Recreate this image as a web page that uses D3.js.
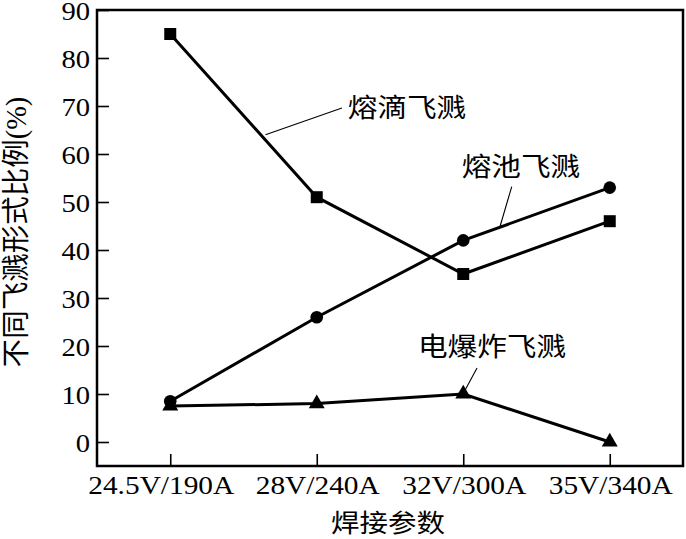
<!DOCTYPE html>
<html><head><meta charset="utf-8">
<script src="https://cdn.jsdelivr.net/npm/d3@7"></script>
<style>html,body{margin:0;padding:0;background:#fff;}</style>
</head><body>
<svg id="c" width="686" height="539"></svg>
<script>
const categories = ["24.5V/190A","28V/240A","32V/300A","35V/340A"];
const dropletSpatter = [85, 51, 35, 46];      // 熔滴飞溅 squares
const poolSpatter = [8.5, 26, 42, 53];        // 熔池飞溅 circles
const explosionSpatter = [7.5, 8, 10, 0];     // 电爆炸飞溅 triangles
const yTicks = [0,10,20,30,40,50,60,70,80,90];
const seriesNames = ["熔滴飞溅","熔池飞溅","电爆炸飞溅"];
const yTitle = "不同飞溅形式比例";
const xTitle = "焊接参数";

const svg = d3.select("#c");
const L=97, R=683, T=10, B=466;
const x = d3.scaleLinear().domain([-0.5, 3.5]).range([L, R]);
const y = d3.scaleLinear().domain([-5, 90]).range([B, T]);
const serif = "'Liberation Serif','Times New Roman',serif";
const cjk = "'Noto Sans CJK SC','Noto Sans CJK JP',sans-serif";

// box
svg.append("rect").attr("x",L).attr("y",T).attr("width",R-L).attr("height",B-T)
  .attr("fill","none").attr("stroke","#000").attr("stroke-width",2.5);

// y axis (inward ticks)
const yAxis = d3.axisRight(y).tickValues(yTicks).tickSize(12).tickFormat("");
const gy = svg.append("g").attr("transform",`translate(${L},0)`).call(yAxis);
gy.select(".domain").remove();
gy.selectAll(".tick line").attr("stroke","#000").attr("stroke-width",1.6);
yTicks.forEach(v=>{
  svg.append("text").attr("transform",`translate(90,${y(v)+10}) scale(1.1,1)`)
    .attr("text-anchor","end")
    .attr("font-family",serif).attr("font-size",26).text(v);
});

// x axis (inward ticks)
const xAxis = d3.axisTop(x).tickValues(d3.range(categories.length)).tickSize(12).tickFormat("");
const gx = svg.append("g").attr("transform",`translate(0,${B})`).call(xAxis);
gx.select(".domain").remove();
gx.selectAll(".tick line").attr("stroke","#000").attr("stroke-width",1.6);
categories.forEach((c,i)=>{
  const cx = i === 0 ? x(i) - 9 : x(i) + 1;
  svg.append("text").attr("transform",`translate(${cx},494) scale(1.13,1)`)
    .attr("text-anchor","middle").attr("font-family",serif).attr("font-size",26).text(c);
});

// titles
svg.append("text").attr("transform",`translate(${(L+R)/2 - 2},532) scale(1.14,1)`)
  .attr("text-anchor","middle").attr("font-family",cjk).attr("font-size",25).text(xTitle);
const yt = svg.append("text").attr("transform",`translate(26,232) rotate(-90)`)
  .attr("text-anchor","middle").attr("font-family",cjk).attr("font-size",28.5);
yt.append("tspan").text(yTitle);
yt.append("tspan").attr("font-family",serif).text("(%)");

// lines
const line = d3.line().x((d,i)=>x(i)).y(d=>y(d));
[dropletSpatter, poolSpatter, explosionSpatter].forEach(s=>{
  svg.append("path").attr("d",line(s)).attr("fill","none").attr("stroke","#000").attr("stroke-width",3);
});
// markers
dropletSpatter.forEach((v,i)=>{
  svg.append("rect").attr("x",x(i)-6).attr("y",y(v)-6).attr("width",12).attr("height",12).attr("fill","#000");
});
poolSpatter.forEach((v,i)=>{
  svg.append("circle").attr("cx",x(i)).attr("cy",y(v)).attr("r",6.3).attr("fill","#000");
});
const tri = d3.symbol().type(d3.symbolTriangle).size(110);
explosionSpatter.forEach((v,i)=>{
  svg.append("path").attr("d",tri()).attr("transform",`translate(${x(i)},${y(v)})`).attr("fill","#000");
});

// annotations: label centre and leader line in data coordinates (category index, value)
const annotations = [
  {label: seriesNames[0], lx: 1.616, ly: 70, a: [0.65, 64], b: [1.172, 69.6]},
  {label: seriesNames[1], lx: 2.394, ly: 57.7, a: [2.331, 53.2], b: [2.251, 44.9]},
  {label: seriesNames[2], lx: 2.196, ly: 20.2, a: [2.094, 15.4], b: [2.012, 10.8]}
];
annotations.forEach(an=>{
  svg.append("line").attr("x1",x(an.a[0])).attr("y1",y(an.a[1]))
    .attr("x2",x(an.b[0])).attr("y2",y(an.b[1])).attr("stroke","#000").attr("stroke-width",1.1);
  svg.append("text").attr("transform",`translate(${x(an.lx)},${y(an.ly)}) scale(1.14,1)`)
    .attr("text-anchor","middle").attr("dominant-baseline","central")
    .attr("font-family",cjk).attr("font-size",26).text(an.label);
});
</script>
</body></html>
